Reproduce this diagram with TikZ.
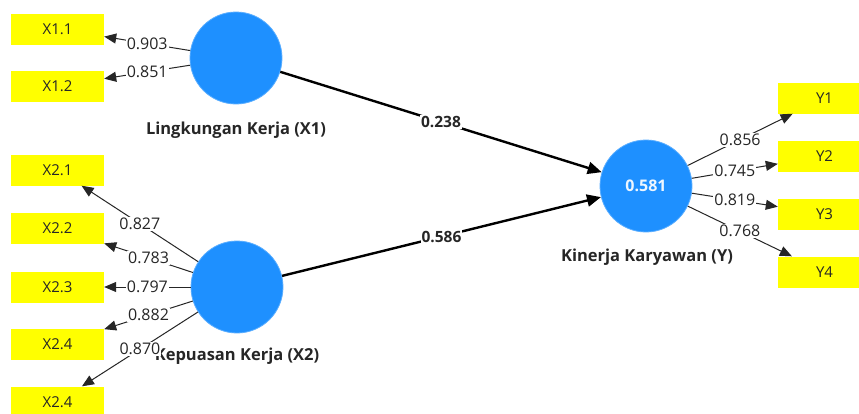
\documentclass[tikz,border=0pt]{standalone}
\usepackage{fontspec}
\setmainfont{Open Sans}
\usetikzlibrary{arrows.meta}
\definecolor{lvblue}{HTML}{1E90FF}
\definecolor{lvrim}{HTML}{5AAEFF}
\definecolor{indyel}{HTML}{FFFF00}
\definecolor{txtgray}{HTML}{262626}
\begin{document}
\begin{tikzpicture}[x=1pt,y=-1pt,
  latent/.style={circle,fill=lvblue,draw=lvrim,line width=0.8pt,minimum size=92pt,inner sep=0pt,text=white!92!lvblue,font=\fontsize{16}{18}\selectfont\bfseries},
  indic/.style={rectangle,fill=indyel,minimum width=93pt,minimum height=31pt,inner sep=0pt,text=txtgray,font=\fontsize{15}{17}\selectfont},
  lvlabel/.style={font=\fontsize{16.5}{18}\selectfont\bfseries,text=txtgray},
  load/.style={draw=txtgray,line width=1pt,-{Triangle[length=12pt,width=10pt]}},
  lab/.style={fill=white,inner sep=1pt,font=\fontsize{16}{18}\selectfont,text=txtgray},
  pathcoef/.style={draw=black,line width=2.4pt,-{Triangle[length=14pt,width=12pt]}},
  plab/.style={fill=white,inner sep=1pt,text=txtgray,font=\fontsize{15.5}{17}\selectfont\bfseries}]
\useasboundingbox (0,0) rectangle (859,413);
\clip (0,0) rectangle (859,413);
\fill[white] (0,0) rectangle (859,413);

% latent variables
\node[latent] (X1) at (236,58) {};
\node[latent] (X2) at (237,287) {};
\node[latent] (Y) at (646,186) {0.581};

% latent labels
\node[lvlabel] (LX1) at (236,130) {Lingkungan Kerja (X1)};
\node[lvlabel] (LX2) at (237,356) {Kepuasan Kerja (X2)};
\node[lvlabel] (LY) at (647,257) {Kinerja Karyawan (Y)};

% indicators
\node[indic] (X11) at (57.5,29) {X1.1};
\node[indic] (X12) at (57.5,86) {X1.2};
\node[indic] (X21) at (57.5,170) {X2.1};
\node[indic] (X22) at (57.5,228) {X2.2};
\node[indic] (X23) at (57.5,287) {X2.3};
\node[indic] (X24) at (57.5,344) {X2.4};
\node[indic] (X25) at (57.5,402) {X2.4};
\node[indic] (Y1) at (824.5,98) {Y1};
\node[indic] (Y2) at (824.5,156) {Y2};
\node[indic] (Y3) at (824.5,214) {Y3};
\node[indic] (Y4) at (824.5,272) {Y4};

% outer loadings
\draw[load] (X1) -- node[lab] {0.903} (X11);
\draw[load] (X1) -- node[lab] {0.851} (X12);
\draw[load] (X2) -- node[lab] {0.827} (X21);
\draw[load] (X2) -- node[lab] {0.783} (X22);
\draw[load] (X2) -- node[lab] {0.797} (X23);
\draw[load] (X2) -- node[lab] {0.882} (X24);
\draw[load] (X2) -- node[lab] {0.870} (X25);
\draw[load] (Y) -- node[lab] {0.856} (Y1);
\draw[load] (Y) -- node[lab] {0.745} (Y2);
\draw[load] (Y) -- node[lab] {0.819} (Y3);
\draw[load] (Y) -- node[lab] {0.768} (Y4);

% path coefficients
\draw[pathcoef] (X1) -- node[plab] {0.238} (Y);
\draw[pathcoef] (X2) -- node[plab] {0.586} (Y);
\end{tikzpicture}
\end{document}
